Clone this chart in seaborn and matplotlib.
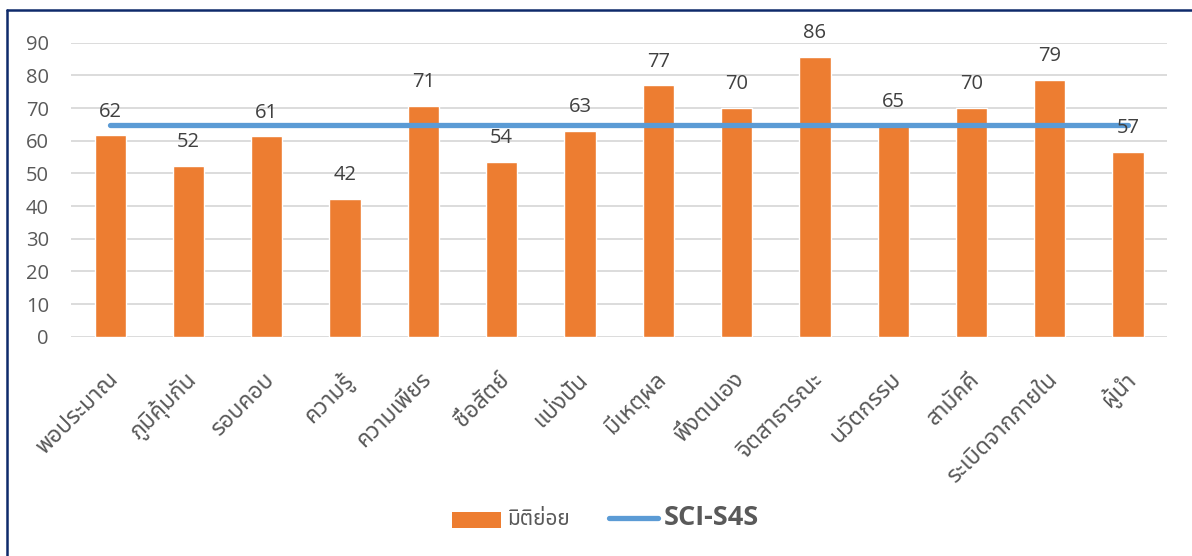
import numpy as np
import pandas as pd
import matplotlib.pyplot as plt
import matplotlib.transforms as mtransforms
import seaborn as sns
from matplotlib.patches import Patch
from matplotlib.lines import Line2D

# data
categories = ["พอประมาณ", "ภูมิคุ้มกัน", "รอบคอบ", "ความรู้", "ความเพียร", "ซื่อสัตย์", "แบ่งปัน",
              "มีเหตุผล", "พึ่งตนเอง", "จิตสาธารณะ", "นวัตกรรม", "สามัคคี", "ระเบิดจากภายใน", "ผู้นำ"]
sub_scores = [61.6, 52.3, 61.3, 42.1, 70.6, 53.6, 63.0, 76.9, 70.0, 85.6, 64.6, 70.1, 78.6, 56.6]
sci_s4s = [64.7] * len(categories)
y_ticks = [0, 10, 20, 30, 40, 50, 60, 70, 80, 90]

bar_name = "มิติย่อย"
line_name = "SCI-S4S"

df = pd.DataFrame({"dim": categories, "score": sub_scores, "sci": sci_s4s})

sns.set_theme(style="white")
plt.rcParams['font.family'] = ['Open Sans', 'Noto Sans Thai', 'Loma', 'Garuda', 'Noto Sans', 'DejaVu Sans']

orange = "#ED7D31"
blue = "#5B9BD5"
grey = "#595959"

fig = plt.figure(figsize=(11.92, 5.56), dpi=100)
ax = fig.add_axes([0.0596, 0.3944, 0.9196, 0.5288])

sns.barplot(data=df, x="dim", y="score", color=orange, width=0.4, saturation=1,
            ax=ax, zorder=2)
sns.lineplot(x=np.arange(len(categories)), y=df["sci"], color=blue, linewidth=3.8,
             solid_capstyle="round", ax=ax, zorder=3)

for c in ax.containers:
    ax.bar_label(c, fmt='%.0f', padding=10, fontsize=14.5, color="#404040", clip_on=False)

ax.set_ylim(0, 90)
ax.set_xlim(-0.5, len(categories) - 0.5)
ax.set_yticks(y_ticks)
ax.yaxis.grid(True, color="#D9D9D9", linewidth=1.3, zorder=0)
ax.set_axisbelow(True)
ax.set_xlabel("")
ax.set_ylabel("")
for s in ax.spines.values():
    s.set_visible(False)
ax.tick_params(axis='y', labelsize=14.5, labelcolor=grey, length=0, pad=16)
ax.tick_params(axis='x', labelsize=16.5, labelcolor=grey, length=0, pad=8)
shift = mtransforms.ScaledTranslation(-0.04, -0.2, fig.dpi_scale_trans)
for lbl in ax.get_xticklabels():
    lbl.set_rotation(45)
    lbl.set_ha('right')
    lbl.set_rotation_mode('anchor')
    lbl.set_transform(lbl.get_transform() + shift)

# legend at the bottom
handles = [Patch(facecolor=orange, edgecolor='none'),
           Line2D([0], [0], color=blue, linewidth=3.8, solid_capstyle="round")]
leg = fig.legend(handles, [bar_name, line_name], loc='center', bbox_to_anchor=(0.508, 0.068),
                 ncol=2, frameon=False, handlelength=3.2, handleheight=1.3,
                 columnspacing=2.6, handletextpad=0.4)
texts = leg.get_texts()
texts[0].set_fontsize(15)
texts[0].set_fontweight('bold')
texts[0].set_color(grey)
texts[1].set_fontsize(19.5)
texts[1].set_fontweight('bold')
texts[1].set_color(grey)

# navy frame around the chart
fig.add_artist(Line2D([0.0055, 0.0055], [0, 0.982], color="#0E2A6B", linewidth=1.8,
                      transform=fig.transFigure))
fig.add_artist(Line2D([0.0055, 1.0], [0.982, 0.982], color="#0E2A6B", linewidth=1.8,
                      transform=fig.transFigure))

fig.savefig("out.png", dpi=100)
